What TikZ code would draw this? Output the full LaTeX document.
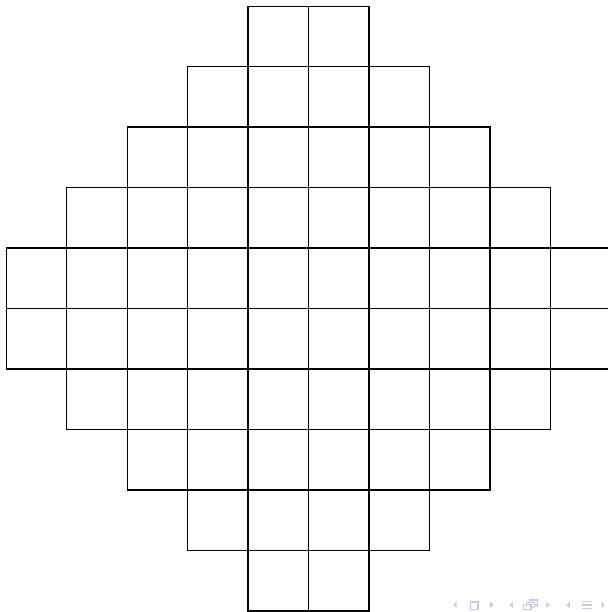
\documentclass[tikz,border=0pt]{standalone}
\usepackage{xcolor}
\usepackage{tikz}
\definecolor{navgray}{RGB}{200, 200, 235}
\tikzset{
  cellline/.style={draw=black, line width=0.5pt},
  navfill/.style={fill=navgray},
  navline/.style={draw=navgray, line width=0.6pt}
}

\begin{document}
\begin{tikzpicture}
  \useasboundingbox (-0.1,-0.017) rectangle (9.95,10.1);
  % cells of the diamond
  \foreach \r in {0,...,9}{
    \foreach \c in {0,...,9}{
      \pgfmathsetmacro\dist{abs(\c-4.5)+abs(\r-4.5)}
      \ifdim\dist pt<5.5pt
        \draw[cellline] (\c,\r) rectangle ++(1,1);
      \fi
    }
  }
  % navigation symbols
  \fill[navfill] (7.45,0.05) -- (7.45,0.15) -- (7.39,0.10) -- cycle;
  \draw[navline] (7.68,0.03) rectangle (7.80,0.15);
  \fill[navfill] (8.00,0.05) -- (8.00,0.15) -- (8.06,0.10) -- cycle;
  \fill[navfill] (8.38,0.05) -- (8.38,0.15) -- (8.32,0.10) -- cycle;
  \draw[navline] (8.55,0.02) rectangle (8.68,0.11);
  \draw[navline] (8.60,0.07) -- (8.60,0.14) -- (8.73,0.14) -- (8.73,0.06) -- (8.68,0.06);
  \draw[navline] (8.65,0.14) -- (8.65,0.18) -- (8.78,0.18) -- (8.78,0.10) -- (8.73,0.10);
  \fill[navfill] (8.93,0.05) -- (8.93,0.15) -- (8.99,0.10) -- cycle;
  \fill[navfill] (9.32,0.05) -- (9.32,0.15) -- (9.26,0.10) -- cycle;
  \foreach \yy in {0.04,0.10,0.16}
    \draw[navline] (9.52,\yy) -- (9.69,\yy);
  \fill[navfill] (9.84,0.05) -- (9.84,0.15) -- (9.90,0.10) -- cycle;
\end{tikzpicture}
\end{document}
